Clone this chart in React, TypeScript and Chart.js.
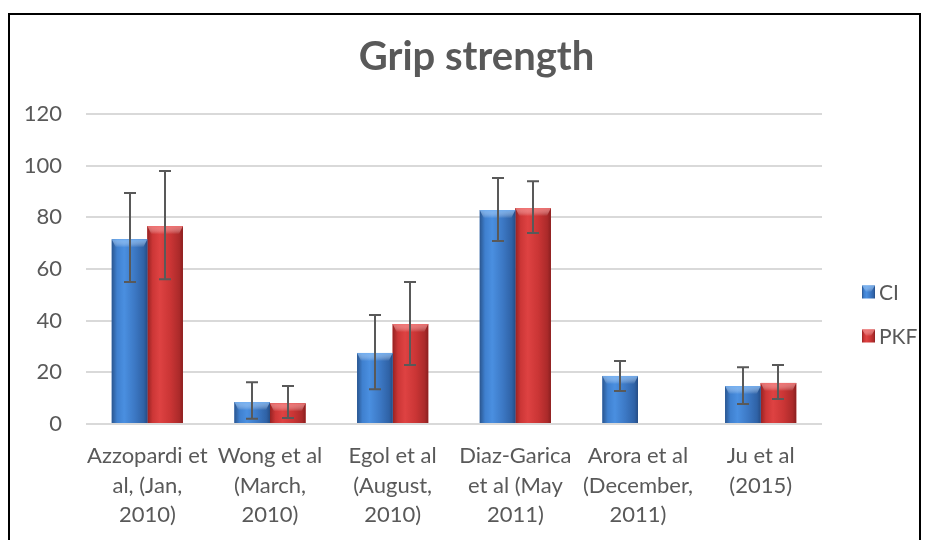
import { useEffect, useRef } from "react";
import { Chart, registerables } from "chart.js";

Chart.register(...registerables);

const categories: string[][] = [
  ["Azzopardi et", "al, (Jan,", "2010)"],
  ["Wong et al", "(March,", "2010)"],
  ["Egol et al", "(August,", "2010)"],
  ["Diaz-Garica", "et al (May", "2011)"],
  ["Arora et al", "(December,", "2011)"],
  ["Ju et al", "(2015)"],
];
const seriesNames = ["CI", "PKF"];
const ciValues = [71.5, 8.5, 27.5, 82.8, 18.6, 14.7];
const ciErrHigh = [89.4, 16.2, 42.2, 95.2, 24.4, 22.0];
const ciErrLow = [55, 2, 13.5, 70.8, 12.8, 7.7];
const pkfValues = [76.6, 8, 38.7, 83.6, null, 15.9];
const pkfErrHigh = [97.9, 14.7, 55, 94, null, 22.8];
const pkfErrLow = [56, 2.3, 22.8, 73.9, null, 9.7];
const yTicks = [0, 20, 40, 60, 80, 100, 120];
const titleText = "Grip strength";

const FONT = "Lato, 'Open Sans', sans-serif";
const TEXT = "#595959";

const palettes = [
  {
    solid: "#3a76c4",
    stops: ["#2a5690", "#3f80cf", "#4a8fe0", "#3c78c4", "#2f62a6", "#264d85"],
    top: "rgba(120,180,245,0.85)",
  },
  {
    solid: "#c93434",
    stops: ["#962222", "#cc3636", "#de4242", "#ca3535", "#ab2a2a", "#8a1f1f"],
    top: "rgba(245,120,120,0.85)",
  },
];
const stopPos = [0, 0.15, 0.35, 0.65, 0.9, 1];

function fillBar(ctx: CanvasRenderingContext2D, l: number, r: number, t: number, b: number, pi: number) {
  const p = palettes[pi];
  const g = ctx.createLinearGradient(l, 0, r, 0);
  p.stops.forEach((c, i) => g.addColorStop(stopPos[i], c));
  ctx.fillStyle = g;
  ctx.fillRect(l, t, r - l, b - t);
  const h = Math.min(8, (b - t) / 2);
  const tg = ctx.createLinearGradient(0, t, 0, t + h);
  tg.addColorStop(0, p.top);
  tg.addColorStop(1, "rgba(255,255,255,0)");
  ctx.fillStyle = tg;
  ctx.beginPath();
  ctx.moveTo(l, t);
  ctx.lineTo(r, t);
  ctx.lineTo(r - 4, t + h);
  ctx.lineTo(l + 4, t + h);
  ctx.closePath();
  ctx.fill();
}

const errHigh = [ciErrHigh, pkfErrHigh];
const errLow = [ciErrLow, pkfErrLow];

const barLook = {
  id: "barLook",
  afterDatasetDraw(chart: any, args: any) {
    const ctx = chart.ctx as CanvasRenderingContext2D;
    const meta = chart.getDatasetMeta(args.index);
    ctx.save();
    meta.data.forEach((el: any, i: number) => {
      const v = chart.data.datasets[args.index].data[i];
      if (v === null || v === undefined) return;
      const { x, y, base, width } = el.getProps(["x", "y", "base", "width"], true);
      fillBar(ctx, x - width / 2, x + width / 2, y, base, args.index);
    });
    ctx.restore();
  },
  afterDatasetsDraw(chart: any) {
    const ctx = chart.ctx as CanvasRenderingContext2D;
    const ys = chart.scales.y;
    ctx.save();
    ctx.strokeStyle = "#595959";
    ctx.lineWidth = 2;
    chart.data.datasets.forEach((_ds: any, di: number) => {
      const meta = chart.getDatasetMeta(di);
      meta.data.forEach((el: any, i: number) => {
        const hi = errHigh[di][i];
        const lo = errLow[di][i];
        if (hi === null || lo === null) return;
        const x = Math.round(el.x);
        const yt = ys.getPixelForValue(hi);
        const yb = ys.getPixelForValue(lo);
        ctx.beginPath();
        ctx.moveTo(x, yt);
        ctx.lineTo(x, yb);
        ctx.moveTo(x - 6, yt);
        ctx.lineTo(x + 6, yt);
        ctx.moveTo(x - 6, yb);
        ctx.lineTo(x + 6, yb);
        ctx.stroke();
      });
    });
    ctx.restore();
  },
  afterDraw(chart: any) {
    const ctx = chart.ctx as CanvasRenderingContext2D;
    const area = chart.chartArea;
    ctx.save();
    // title, centred over the whole chart
    ctx.font = `bold 40px ${FONT}`;
    ctx.fillStyle = TEXT;
    ctx.textAlign = "center";
    ctx.textBaseline = "middle";
    ctx.fillText(titleText, chart.width / 2 + 12, 42);
    // legend
    ctx.font = `21px ${FONT}`;
    ctx.textAlign = "left";
    const bx = area.right + 40;
    const cy0 = 277;
    chart.data.datasets.forEach((ds: any, di: number) => {
      const cy = cy0 + di * 44;
      fillBar(ctx, bx, bx + 13, cy - 6.5, cy + 6.5, di);
      ctx.fillStyle = TEXT;
      ctx.fillText(ds.label, bx + 17, cy + 1);
    });
    ctx.restore();
  },
};

export default function App() {
  const ref = useRef<HTMLCanvasElement | null>(null);
  useEffect(() => {
    if (!ref.current) return;
    const chart = new Chart(ref.current, {
      type: "bar",
      data: {
        labels: categories,
        datasets: [
          { label: seriesNames[0], data: ciValues, backgroundColor: palettes[0].solid, borderWidth: 0 },
          { label: seriesNames[1], data: pkfValues as any, backgroundColor: palettes[1].solid, borderWidth: 0 },
        ],
      },
      options: {
        animation: false,
        responsive: false,
        maintainAspectRatio: false,
        layout: { padding: { right: 97, left: 0, top: 99, bottom: 0 } },
        datasets: { bar: { categoryPercentage: 0.58, barPercentage: 1.0 } },
        plugins: {
          legend: { display: false },
          tooltip: { enabled: false },
          title: { display: false },
        },
        scales: {
          x: {
            grid: { display: false, drawTicks: false },
            border: { display: false },
            ticks: {
              color: TEXT,
              font: { family: FONT, size: 22, lineHeight: 1.35 },
              padding: 17,
              maxRotation: 0,
              autoSkip: false,
            },
            afterFit: (s: any) => {
              s.height = 116;
            },
          },
          y: {
            min: 0,
            max: 120,
            grid: { color: "#d9d9d9", lineWidth: 2, drawTicks: false },
            border: { display: false },
            ticks: {
              color: TEXT,
              font: { family: FONT, size: 22 },
              padding: 24,
              stepSize: 20,
            },
            afterBuildTicks: (s: any) => {
              s.ticks = yTicks.map((v) => ({ value: v }));
            },
            afterFit: (s: any) => {
              s.width = 76;
            },
          },
        },
      },
      plugins: [barLook],
    });
    return () => chart.destroy();
  }, []);
  return (
    <div
      style={{
        position: "fixed",
        left: 8,
        top: 13,
        width: 913,
        height: 560,
        border: "2px solid #000",
        borderBottom: "none",
        boxSizing: "border-box",
        background: "#fff",
      }}
    >
      <canvas ref={ref} width={909} height={525} style={{ display: "block", width: 909, height: 525 }} />
    </div>
  );
}
